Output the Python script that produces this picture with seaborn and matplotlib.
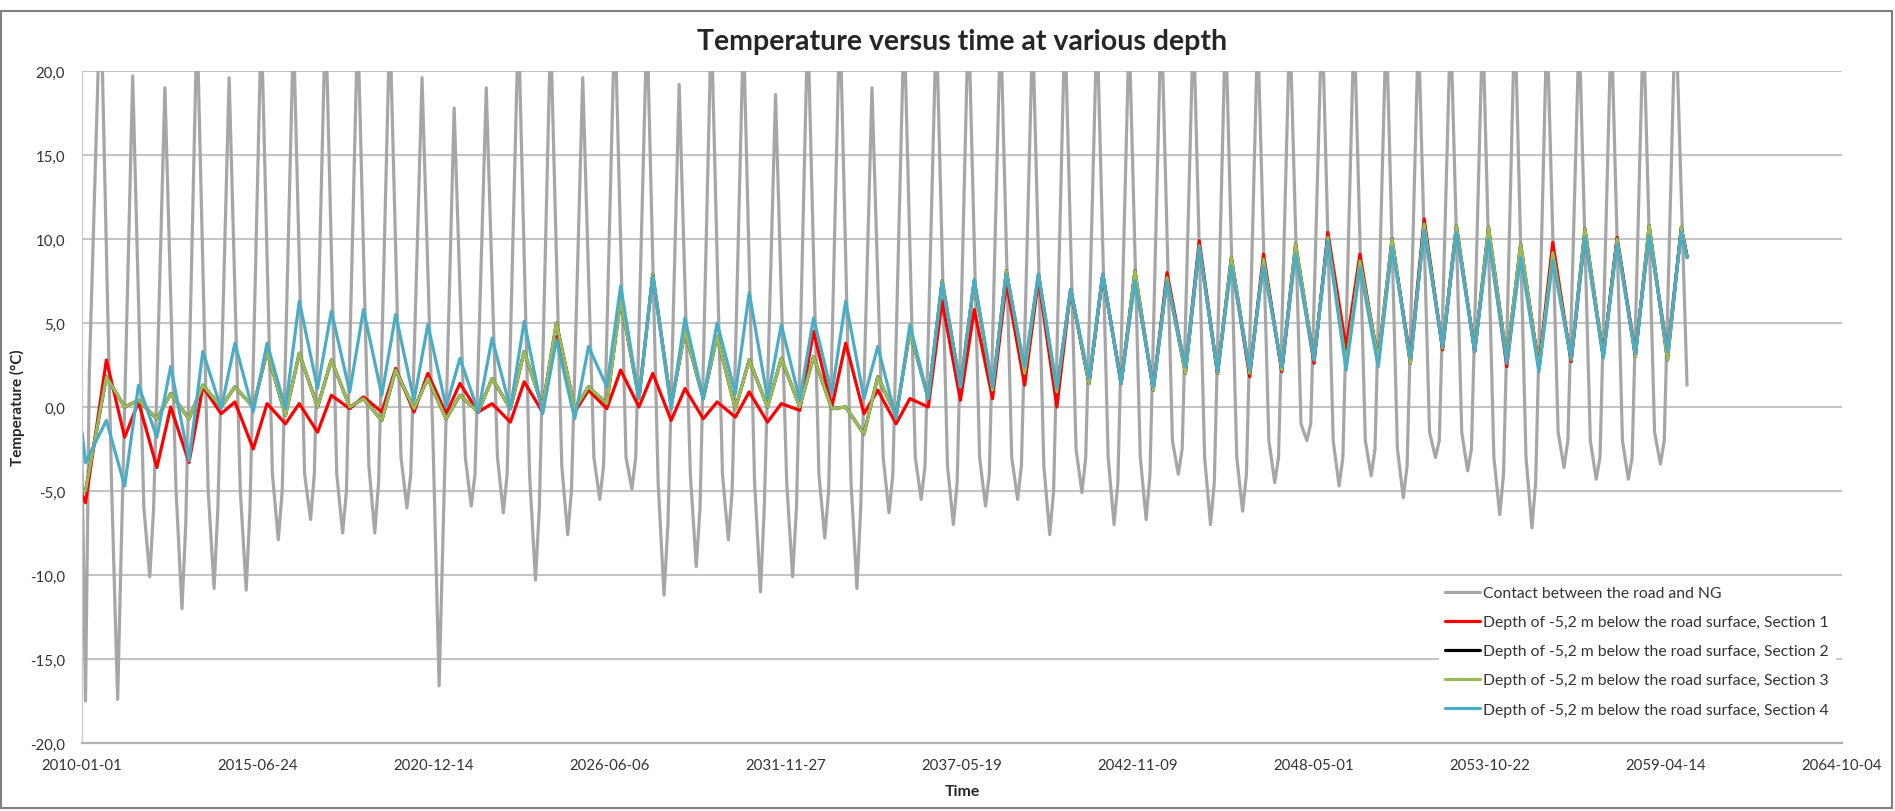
import matplotlib
matplotlib.use("Agg")
import matplotlib.pyplot as plt
import matplotlib.dates as mdates
from matplotlib.patches import Rectangle
from matplotlib.ticker import FuncFormatter
import pandas as pd
import seaborn as sns

# one trough (winter) and one peak (summer / autumn) per year
years = list(range(2010, 2060))

gray_trough = [-17.5, -17.4, -10.1, -12.0, -10.8, -10.9, -7.9, -6.7, -7.5, -7.5,
               -6.0, -16.6, -5.9, -6.3, -10.3, -7.6, -5.5, -4.9, -11.2, -9.5,
               -7.9, -11.0, -10.1, -7.8, -10.8, -6.3, -5.5, -7.0, -5.9, -5.5,
               -7.6, -5.1, -7.0, -6.7, -4.0, -7.0, -6.2, -4.5, -2.0, -4.7,
               -4.1, -5.4, -3.0, -3.8, -6.4, -7.2, -3.6, -4.3, -4.3, -3.4]
gray_peak = [25.0, 19.7, 19.0, 23.0, 19.6, 23.0, 22.5, 23.5, 23.0, 23.0,
             19.6, 17.8, 19.0, 23.0, 22.5, 19.6, 23.5, 23.0, 19.2, 23.0,
             22.5, 18.6, 23.0, 23.5, 19.0, 23.0, 23.0, 23.5, 23.0, 22.5,
             23.0, 23.0, 22.5, 23.5, 23.0, 23.0, 22.5, 23.0, 23.5, 23.0,
             23.0, 22.5, 23.0, 23.0, 23.5, 23.0, 22.5, 23.0, 23.0, 24.0]
# rough level of the ragged winter plateau: early winter (December) and late winter (March)
gray_early_winter = [-5.0, -6.0, -5.0, -5.0, -5.0, -4.0, -4.0, -4.0, -3.5,
                     -3.0, -2.5, -3.0, -3.0, -4.0, -3.5, -3.0, -3.0, -4.5, -4.0,
                     -4.0, -4.5, -4.5, -4.0, -4.5, -3.0, -3.0, -3.5, -3.0, -3.0,
                     -3.5, -2.5, -3.0, -3.0, -2.0, -3.0, -3.0, -2.0, -1.0, -2.0,
                     -2.0, -2.5, -1.5, -1.5, -3.0, -3.0, -1.5, -2.0, -2.0, -1.5]
gray_late_winter = [2.0, -8.0, -6.0, -7.0, -6.0, -6.0, -5.0, -4.0, -5.0, -4.5,
                    -4.0, -8.0, -4.0, -4.0, -6.0, -5.0, -3.5, -3.0, -7.0, -6.0,
                    -5.0, -6.0, -6.0, -5.0, -6.0, -4.0, -3.5, -4.5, -4.0, -3.5,
                    -5.0, -3.0, -4.5, -4.0, -2.5, -4.5, -4.0, -3.0, -1.0, -3.0,
                    -2.5, -3.5, -2.0, -2.5, -4.0, -4.5, -2.0, -3.0, -3.0, -2.0]

red_trough = [-5.7, -1.8, -3.6, -3.3, -0.4, -2.5, -1.0, -1.5, -0.1, -0.3,
              -0.3, -0.4, -0.3, -0.9, -0.3, -0.3, -0.1, 0.0, -0.8, -0.7,
              -0.6, -0.9, -0.2, 0.0, -0.4, -1.0, 0.0, 0.4, 0.5, 1.3,
              0.0, 1.4, 1.4, 1.1, 2.2, 2.0, 1.8, 2.1, 2.6, 3.5,
              2.6, 2.9, 3.4, 3.3, 2.4, 2.4, 2.7, 3.0, 3.2, 3.3]
red_peak = [2.8, 0.3, 0.0, 1.2, 0.3, 0.2, 0.2, 0.7, 0.6, 2.3,
            2.0, 1.4, 0.2, 1.5, 4.2, 1.0, 2.2, 2.0, 1.1, 0.3,
            0.9, 0.2, 4.5, 3.8, 1.0, 0.5, 6.3, 5.8, 7.4, 7.6,
            7.0, 7.9, 7.7, 8.0, 9.9, 8.7, 9.1, 9.4, 10.4, 9.1,
            9.8, 11.2, 10.6, 10.3, 9.4, 9.8, 10.2, 10.1, 10.3, 10.6]

green_trough = [-5.0, 0.0, -0.7, -0.7, 0.0, 0.0, -0.5, 0.0, 0.0, -0.8,
                -0.1, -0.7, -0.3, -0.1, 0.0, -0.1, 0.2, 0.5, 0.1, 0.5,
                -0.1, 0.0, 0.0, -0.1, -1.6, -0.5, 0.5, 1.2, 1.0, 2.0,
                0.9, 1.4, 1.4, 1.0, 2.0, 2.0, 2.0, 2.2, 2.8, 2.6,
                2.8, 2.6, 3.5, 3.3, 2.8, 2.3, 2.8, 3.0, 3.0, 2.8]
green_peak = [1.8, 0.4, 0.8, 1.3, 1.2, 3.3, 3.2, 2.8, 0.5, 2.2,
              1.7, 0.7, 1.7, 3.3, 5.0, 1.2, 6.4, 7.9, 4.5, 4.2,
              2.8, 2.9, 3.0, 0.0, 1.8, 4.5, 7.5, 7.5, 8.1, 7.9,
              7.0, 7.9, 8.1, 7.7, 9.6, 8.9, 8.8, 9.7, 10.1, 8.7,
              10.0, 10.9, 10.8, 10.7, 9.7, 9.2, 10.6, 10.0, 10.8, 10.7]

cyan_trough = [-3.3, -4.7, -1.8, -3.2, -0.1, -0.3, -0.1, 1.1, 0.9, 0.7,
               0.4, 0.0, -0.3, -0.1, -0.4, -0.7, 1.2, 0.5, -0.1, 0.5,
               0.8, 0.5, 0.4, 0.8, 0.5, -0.7, 0.5, 1.2, 1.2, 2.4,
               1.1, 1.7, 1.4, 1.2, 2.4, 2.1, 2.2, 2.4, 2.8, 2.2,
               2.4, 2.9, 3.6, 3.3, 2.6, 2.1, 2.9, 2.9, 3.2, 3.3]
cyan_peak = [-0.8, 1.3, 2.4, 3.3, 3.8, 3.8, 6.3, 5.7, 5.8, 5.5,
             4.9, 2.9, 4.1, 5.1, 4.0, 3.6, 7.2, 7.8, 5.3, 5.0,
             6.8, 4.9, 5.3, 6.3, 3.6, 4.9, 7.4, 7.6, 7.9, 7.9,
             7.0, 7.9, 7.5, 7.5, 9.5, 8.4, 8.4, 9.1, 9.9, 8.3,
             9.5, 10.5, 10.4, 10.0, 8.9, 8.7, 10.1, 9.7, 10.2, 10.4]

# first and last recorded values
start_vals = {"gray": -3.0, "red": -5.2, "green": -5.0, "cyan": -1.5}
end_vals = {"gray": 1.3, "red": 9.0, "green": 8.9, "cyan": 8.9}

labels = ["Contact between the road and NG",
          "Depth of -5,2 m below the road surface, Section 1",
          "Depth of -5,2 m below the road surface, Section 2",
          "Depth of -5,2 m below the road surface, Section 3",
          "Depth of -5,2 m below the road surface, Section 4"]


def build(start, troughs, peaks, end, tr_md, pk_md, first_tr_md):
    dates = [pd.Timestamp("2010-01-01")]
    vals = [start]
    for i, y in enumerate(years):
        md = first_tr_md if i == 0 else tr_md
        dates += [pd.Timestamp(f"{y}-{md}"), pd.Timestamp(f"{y}-{pk_md}")]
        vals += [troughs[i], peaks[i]]
    dates.append(pd.Timestamp("2059-12-09"))
    vals.append(end)
    return pd.DataFrame({"date": dates, "temp": vals})


def build_gray():
    dates = [pd.Timestamp("2010-01-01")]
    vals = [start_vals["gray"]]
    for i, y in enumerate(years):
        if i > 0:
            dates.append(pd.Timestamp(f"{y - 1}-12-05"))
            vals.append(gray_early_winter[i - 1])
        dates += [pd.Timestamp(f"{y}-02-10"), pd.Timestamp(f"{y}-03-25"),
                  pd.Timestamp(f"{y}-07-31")]
        vals += [gray_trough[i], gray_late_winter[i], gray_peak[i]]
    dates.append(pd.Timestamp("2059-12-09"))
    vals.append(end_vals["gray"])
    return pd.DataFrame({"date": dates, "temp": vals})


df_gray = build_gray()
df_red = build(start_vals["red"], red_trough, red_peak, end_vals["red"], "05-01", "10-05", "02-10")
df_green = build(start_vals["green"], green_trough, green_peak, end_vals["green"], "05-01", "10-05", "02-10")
df_cyan = build(start_vals["cyan"], cyan_trough, cyan_peak, end_vals["cyan"], "05-01", "10-05", "02-10")

sns.set_style("white")
plt.rcParams["font.family"] = ["Lato", "DejaVu Sans"]

W, H = 1895, 812
fig = plt.figure(figsize=(W / 100, H / 100), dpi=100)
ax = fig.add_axes([82 / W, (H - 744) / H, 1760 / W, 672 / H])

lw = 2.3
sns.lineplot(data=df_gray, x="date", y="temp", color="#a6a6a6", lw=lw, label=labels[0], ax=ax)
sns.lineplot(data=df_red, x="date", y="temp", color="#ff0000", lw=lw, label=labels[1], ax=ax)
sns.lineplot(data=df_green, x="date", y="temp", color="#000000", lw=lw, label=labels[2], ax=ax)
sns.lineplot(data=df_green, x="date", y="temp", color="#9bbb59", lw=lw, label=labels[3], ax=ax)
sns.lineplot(data=df_cyan, x="date", y="temp", color="#4bacc6", lw=lw, label=labels[4], ax=ax)

ax.set_ylim(-20, 20)
ax.set_yticks(range(-20, 21, 5))
ax.yaxis.set_major_formatter(FuncFormatter(lambda v, p: f"{v:.1f}".replace(".", ",")))
ax.set_xlim(pd.Timestamp("2010-01-01"), pd.Timestamp("2064-10-04"))
ax.set_xticks(pd.date_range("2010-01-01", periods=11, freq="2000D"))
ax.xaxis.set_major_formatter(mdates.DateFormatter("%Y-%m-%d"))
ax.set_xlabel("")
ax.set_ylabel("")

ax.grid(axis="y", color="#b3b3b3", lw=1.1)
ax.grid(axis="x", visible=False)
ax.set_axisbelow(True)
for s in ["top", "right"]:
    ax.spines[s].set_visible(False)
ax.spines["left"].set_color("#c8c8c8")
ax.spines["bottom"].set_color("#b0b0b0")
ax.spines["bottom"].set_linewidth(1.6)
ax.tick_params(axis="both", direction="out", length=5, color="#b0b0b0",
               labelsize=10.8, labelcolor="#333333")
ax.tick_params(axis="y", pad=7)
ax.tick_params(axis="x", pad=6)

leg = ax.legend(loc="lower right", bbox_to_anchor=(0.996, 0.03), borderaxespad=0,
                frameon=True, facecolor="white", edgecolor="white", framealpha=1,
                fancybox=False, fontsize=11.3, handlelength=2.2, handletextpad=0.2,
                labelspacing=0.96)
for t in leg.get_texts():
    t.set_color("#333333")

fig.text(962 / W, 1 - 42 / H, "Temperature versus time at various depth",
         ha="center", va="center", fontsize=20.5, fontweight="bold")
fig.text(962 / W, 1 - 792 / H, "Time", ha="center", va="center",
         fontsize=11.4, fontweight="bold")
fig.text(17 / W, 1 - 408 / H, "Temperature (°C)", ha="center", va="center",
         rotation=90, fontsize=11, fontweight="bold")

fig.patches.append(Rectangle((1 / W, 3 / H), 1891 / W, 797 / H, transform=fig.transFigure,
                             fill=False, edgecolor="#808080", lw=1.5))

fig.savefig("out.png", dpi=100)
